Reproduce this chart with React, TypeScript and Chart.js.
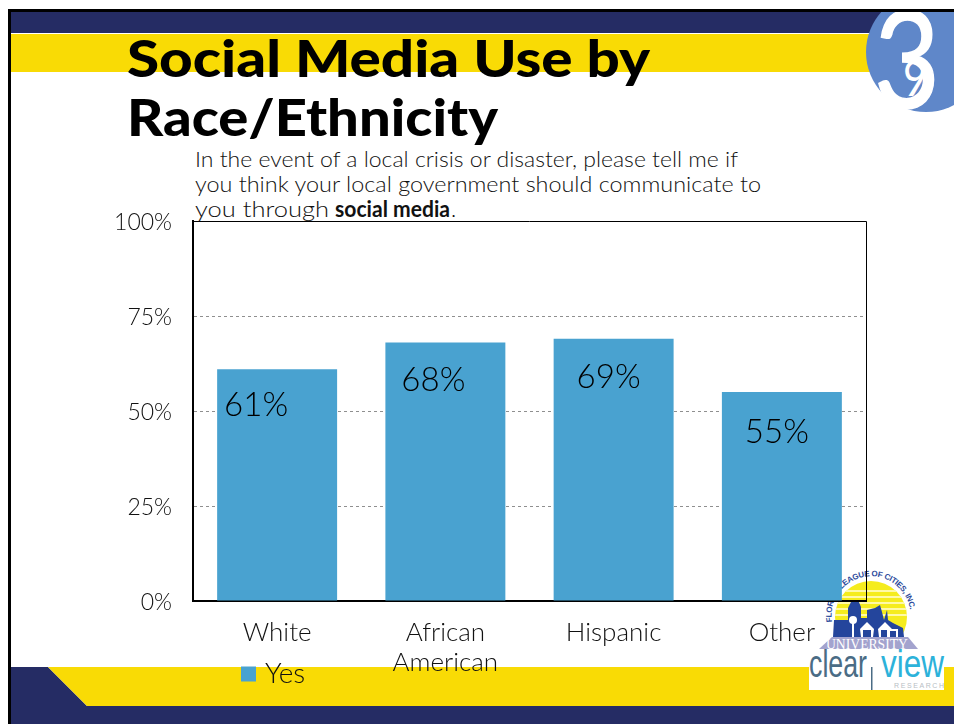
import React, { useEffect, useRef } from "react";
import { Chart, registerables } from "chart.js";

Chart.register(...registerables);

const categories: (string | string[])[] = ["White", ["African", "American"], "Hispanic", "Other"];
const yesShare = [61, 68, 69, 55];
const valueLabels = ["61%", "68%", "69%", "55%"];
const labelNudgeX = [-21, -12, -5, -5];
const labelNudgeY = [36, 38, 39, 40];
const percentTicks = [0, 25, 50, 75, 100];

const FONT = "Lato, 'Open Sans', sans-serif";
const NARROW = "'Liberation Sans Narrow', 'Liberation Sans', sans-serif";
const BAR_BLUE = "#49A2D0";
const NAVY = "#252C64";
const YELLOW = "#F9DB05";

// Prints the percentages inside the bars and closes the plot frame.
const barExtras = {
  id: "barExtras",
  afterLayout(chart: any) {
    chart.legend.left = 236;
    chart.legend.top = 650;
  },
  afterDatasetsDraw(chart: any) {
    const { ctx, chartArea } = chart;
    ctx.save();
    ctx.strokeStyle = "#000";
    ctx.lineWidth = 1;
    ctx.beginPath();
    ctx.moveTo(chartArea.left, chartArea.top + 0.5);
    ctx.lineTo(chartArea.right + 0.5, chartArea.top + 0.5);
    ctx.lineTo(chartArea.right + 0.5, chartArea.bottom);
    ctx.stroke();
    ctx.fillStyle = "#000";
    ctx.font = `300 33px ${FONT}`;
    ctx.textAlign = "center";
    ctx.textBaseline = "middle";
    chart.getDatasetMeta(0).data.forEach((bar: any, i: number) => {
      ctx.fillText(valueLabels[i], bar.x + labelNudgeX[i], bar.y + labelNudgeY[i]);
    });
    ctx.restore();
  },
};

function SlideBackdrop() {
  return (
    <svg width={954} height={724} style={{ position: "absolute", left: 0, top: 0 }}>
      <rect x={10} y={34} width={944} height={38} fill={YELLOW} />
      <rect x={10} y={12} width={944} height={21} fill={NAVY} />
      <polygon points="10,667 48,667 87,706 954,706 954,724 10,724" fill={NAVY} />
      <polygon points="48,667 954,667 954,706 87,706" fill={YELLOW} />
      <rect x={8} y={10} width={3} height={714} fill="#000" />
      <rect x={8} y={9} width={946} height={3} fill="#000" />
      <text x={127} y={77} fontFamily={FONT} fontWeight={900} fontSize={52} textLength={523} lengthAdjust="spacingAndGlyphs" fill="#000">Social Media Use by</text>
      <text x={127} y={136} fontFamily={FONT} fontWeight={900} fontSize={52} textLength={371} lengthAdjust="spacingAndGlyphs" fill="#000">Race/Ethnicity</text>
      <g fontFamily={FONT} fontSize={22} fontWeight={300} fill="#111">
        <text x={195} y={167} textLength={543} lengthAdjust="spacingAndGlyphs">In the event of a local crisis or disaster, please tell me if</text>
        <text x={195} y={192} textLength={566} lengthAdjust="spacingAndGlyphs">you think your local government should communicate to</text>
        <text x={195} y={217} textLength={134} lengthAdjust="spacingAndGlyphs">you through</text>
        <text x={335} y={217} textLength={115} lengthAdjust="spacingAndGlyphs" fontWeight={700}>social media</text>
        <text x={451} y={217}>.</text>
      </g>
      <defs>
        <clipPath id="badge">
          <rect x={860} y={12} width={94} height={110} />
        </clipPath>
      </defs>
      <g clipPath="url(#badge)">
        <circle cx={926} cy={52} r={60} fill="#5F87C9" />
        <text x={874} y={108} fontFamily={FONT} fontSize={136} textLength={66} lengthAdjust="spacingAndGlyphs" fill="#fff" stroke="#fff" strokeWidth={1.5}>3</text>
        <text x={903} y={96} fontFamily={FONT} fontSize={50} textLength={24} lengthAdjust="spacingAndGlyphs" fill="#fff">9</text>
      </g>
    </svg>
  );
}

function PartnerLogos() {
  const stripes = [590, 596, 602, 608, 614];
  return (
    <svg width={954} height={724} style={{ position: "absolute", left: 0, top: 0 }}>
      <defs>
        <path id="sealArc" d="M 832 622 A 39.5 39.5 0 1 1 910 622" fill="none" />
        <clipPath id="sun">
          <circle cx={871} cy={617} r={36} />
        </clipPath>
      </defs>
      <g clipPath="url(#sun)">
        <rect x={834} y={580} width={76} height={60} fill="#F5EC1E" />
        {stripes.map((y) => (
          <rect key={y} x={834} y={y} width={76} height={2} fill="#FFF9A8" />
        ))}
      </g>
      <text fontFamily="'Liberation Sans', sans-serif" fontWeight={700} fontSize={8} fill="#2B4A9B" textLength={124}>
        <textPath href="#sealArc">FLORIDA LEAGUE OF CITIES, INC.</textPath>
      </text>
      <polygon
        points="833,637 834,620 848,620 848,608 852,600 858,600 861,607 861,618 867,618 867,610 875,608 880,605 882,612 884,620 887,610 888,620 893,623 903,628 904,637"
        fill="#24459C"
      />
      <polygon points="860,629 867,622 874,629 873,637 861,637" fill="#fff" />
      <rect x={863} y={630} width={8} height={7} fill="#24459C" />
      <polygon points="878,629 885,622 892,629 898,629 898,637 879,637" fill="#fff" />
      <rect x={881} y={630} width={6} height={7} fill="#24459C" />
      <rect x={890} y={631} width={6} height={6} fill="#24459C" />
      <rect x={852} y={622} width={2} height={15} fill="#fff" />
      <circle cx={853} cy={620} r={4} fill="#fff" />
      <polygon points="819,649 832,637 908,637 918,649" fill="#A3A3CE" />
      <text x={826} y={649} fontFamily="'Liberation Serif', serif" fontSize={15} textLength={82} lengthAdjust="spacingAndGlyphs" fill="#fff">UNIVERSITY</text>
      <rect x={809} y={649} width={135} height={41} fill="#fff" />
      <text x={809} y={677} fontFamily={NARROW} fontSize={38} textLength={58} lengthAdjust="spacingAndGlyphs" fill="#4A6C85">clear</text>
      <rect x={871} y={667} width={1.5} height={23} fill="#4A6C85" />
      <text x={881} y={677} fontFamily={NARROW} fontSize={38} textLength={63} lengthAdjust="spacingAndGlyphs" fill="#2CB2DA">view</text>
      <text x={894} y={688} fontFamily="'Liberation Sans', sans-serif" fontSize={7} textLength={50} fill="#B8BEC4">RESEARCH</text>
    </svg>
  );
}

export default function App() {
  const canvasRef = useRef<HTMLCanvasElement>(null);

  useEffect(() => {
    document.body.style.margin = "0";
    const chart = new Chart(canvasRef.current!, {
      type: "bar",
      data: {
        labels: categories as any,
        datasets: [
          {
            label: "Yes",
            data: yesShare,
            backgroundColor: BAR_BLUE,
            categoryPercentage: 0.713,
            barPercentage: 1,
          },
        ],
      },
      options: {
        responsive: false,
        animation: false,
        layout: { padding: { top: 221, right: 88, bottom: 0, left: 0 } },
        plugins: {
          tooltip: { enabled: false },
          title: { display: false },
          legend: {
            position: "bottom",
            align: "start",
            labels: {
              boxWidth: 5,
              boxHeight: 5,
              color: "#111",
              padding: 10,
              font: { family: FONT, size: 28, weight: "300" },
              // A heavy outline keeps the swatch close to its label.
              generateLabels: (chart: any) =>
                chart.data.datasets.map((ds: any, i: number) => ({
                  text: ds.label,
                  fillStyle: BAR_BLUE,
                  strokeStyle: BAR_BLUE,
                  lineWidth: 10,
                  fontColor: "#111",
                  datasetIndex: i,
                })),
            },
          },
        },
        scales: {
          x: {
            grid: { display: false },
            border: { display: true, color: "#000", width: 2 },
            afterFit: (axis: any) => {
              axis.height = 75;
            },
            ticks: {
              color: "#111",
              padding: 9,
              maxRotation: 0,
              font: { family: FONT, size: 26, weight: "300", lineHeight: 1.15 },
            },
          },
          y: {
            min: 0,
            max: 100,
            afterFit: (axis: any) => {
              axis.width = 193;
            },
            afterBuildTicks: (axis: any) => {
              axis.ticks = percentTicks.map((value) => ({ value }));
            },
            grid: { color: "#8F8F8F", drawTicks: false },
            border: { display: true, color: "#000", width: 2, dash: [3, 3] },
            ticks: {
              color: "#111",
              padding: 21,
              labelOffset: 2,
              font: { family: FONT, size: 23, weight: "300" },
              callback: (v: any) => `${v}%`,
            },
          },
        },
      },
      plugins: [barExtras],
    } as any);
    return () => chart.destroy();
  }, []);

  return (
    <div style={{ position: "relative", width: 954, height: 724, background: "#fff", overflow: "hidden" }}>
      <SlideBackdrop />
      <PartnerLogos />
      <canvas ref={canvasRef} width={954} height={724} style={{ position: "absolute", left: 0, top: 0 }} />
    </div>
  );
}
